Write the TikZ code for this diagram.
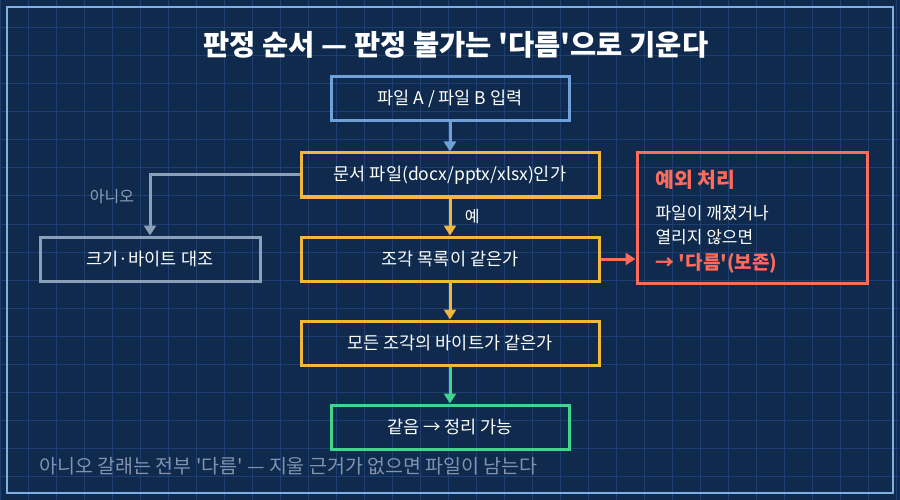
\documentclass[tikz,border=0pt]{standalone}
\usepackage{fontspec}
\setmainfont{Noto Sans CJK KR}[Ligatures=TeXOff]
\usetikzlibrary{arrows.meta}
\definecolor{bg}{HTML}{0F2A4C}
\definecolor{gridc}{HTML}{1E4070}
\definecolor{frame}{HTML}{7FB0E0}
\definecolor{blu}{HTML}{6FA0D8}
\definecolor{yel}{HTML}{F2B83C}
\definecolor{gry}{HTML}{8AA0B8}
\definecolor{grn}{HTML}{3DD68C}
\definecolor{red}{HTML}{FF6B5B}
\definecolor{foot}{HTML}{8092B0}
\begin{document}
\begin{tikzpicture}[x=1pt,y=-1pt,
 box/.style={draw=#1,line width=3pt,minimum height=44pt,text=white,font=\fontsize{17.5}{19}\selectfont,inner sep=0pt},
 arr/.style={draw=#1,line width=3pt,-{Triangle[length=10pt,width=12pt]}}]
\useasboundingbox (0,0) rectangle (900,500);
\fill[bg] (0,0) rectangle (900,500);
\foreach \i in {0,28,...,900} \draw[gridc,line width=1pt] (\i,0)--(\i,500);
\foreach \i in {0,28,...,500} \draw[gridc,line width=1pt] (0,\i)--(900,\i);
\draw[frame,line width=2pt] (7,7) rectangle (893,493);
\node[text=white,font=\fontsize{28.5}{30}\bfseries\selectfont] (title) at (456,45) {판정 순서 — 판정 불가는 '다름'으로 기운다};
\node[box=blu,minimum width=238pt] (in) at (450,99) {파일 A / 파일 B 입력};
\node[box=yel,minimum width=298pt] (doc) at (450,175) {문서 파일(docx/pptx/xlsx)인가};
\node[box=gry,minimum width=220pt] (cmp) at (150,259) {크기·바이트 대조};
\node[box=yel,minimum width=298pt] (frag) at (450,259) {조각 목록이 같은가};
\node[box=yel,minimum width=298pt] (all) at (450,343) {모든 조각의 바이트가 같은가};
\node[box=grn,minimum width=238pt] (same) at (450,427) {같음 → 정리 가능};
\node[draw=red,line width=3pt,minimum width=230pt,minimum height=130pt] (ex) at (752,218) {};
\node[anchor=west,text=red,font=\fontsize{20.5}{22}\bfseries\selectfont] (ext) at (652,180) {예외 처리};
\node[anchor=west,text=white,font=\fontsize{17}{19}\selectfont] (ex1) at (652,213) {파일이 깨졌거나};
\node[anchor=west,text=white,font=\fontsize{17}{19}\selectfont] (ex2) at (652,237) {열리지 않으면};
\node[anchor=west,text=red,font=\fontsize{19}{21}\bfseries\selectfont] (ex3) at (652,263) {→ '다름'(보존)};
\draw[arr=blu] (in) -- (doc);
\draw[arr=yel] (doc) -- node[right=10pt,text=white,font=\fontsize{16}{18}\selectfont]{예} (frag);
\draw[arr=yel] (frag) -- (all);
\draw[arr=grn] (all) -- (same);
\draw[arr=gry] (doc.west) -- (150,175) -- (cmp.north);
\node[text=gry,font=\fontsize{16}{18}\selectfont] (no) at (112,197) {아니오};
\draw[arr=red] (frag.east) -- (ex.west|-frag.east);
\node[anchor=west,text=foot,font=\fontsize{19.5}{21}\selectfont] (ft) at (36,466) {아니오 갈래는 전부 '다름' — 지울 근거가 없으면 파일이 남는다};
\end{tikzpicture}
\end{document}
